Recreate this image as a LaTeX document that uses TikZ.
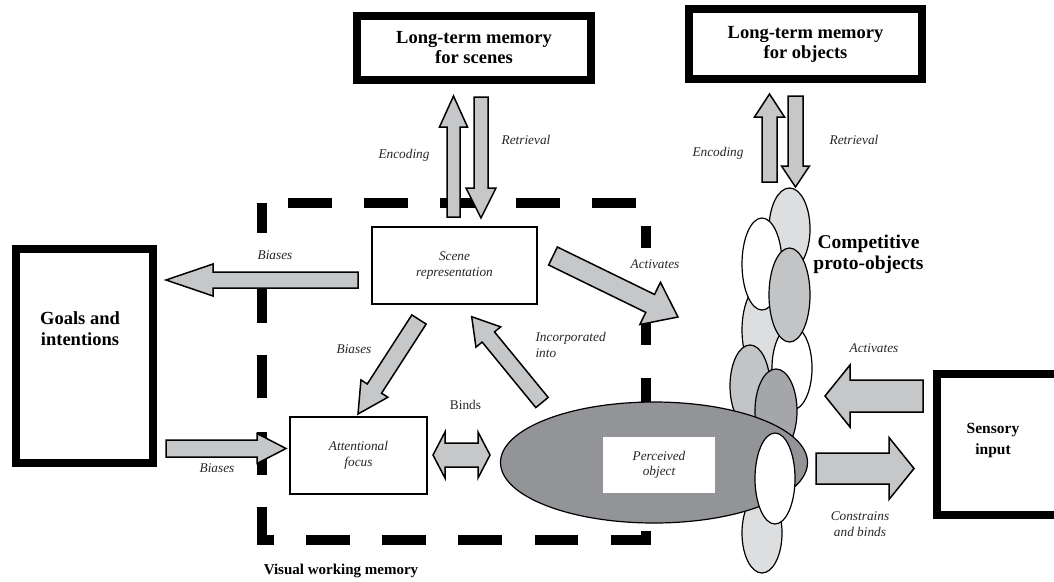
\documentclass[tikz,border=0pt]{standalone}
\usepackage{fontspec}
\setmainfont{Liberation Serif}
\usetikzlibrary{calc,shapes.geometric}

\definecolor{arrowgray}{HTML}{C6C7C9}
\definecolor{protolight}{HTML}{DDDEDF}
\definecolor{protomid}{HTML}{C3C4C6}
\definecolor{protodark}{HTML}{A5A6A9}
\definecolor{percgray}{HTML}{939497}

% fat arrow: #1 tail, #2 tip, #3 half shaft, #4 half head, #5 head length
\newcommand{\fatarrow}[5]{%
  \path[fatstyle] let \p1=(#1), \p2=(#2),
      \n1={atan2(\y2-\y1,\x2-\x1)}, \n2={veclen(\x2-\x1,\y2-\y1)-#5pt} in
    ($(\p1)+({\n1-90}:#3pt)$) -- ($(\p1)+(\n1:\n2)+({\n1-90}:#3pt)$)
    -- ($(\p1)+(\n1:\n2)+({\n1-90}:#4pt)$) -- (\p2)
    -- ($(\p1)+(\n1:\n2)+({\n1+90}:#4pt)$) -- ($(\p1)+(\n1:\n2)+({\n1+90}:#3pt)$)
    -- ($(\p1)+({\n1+90}:#3pt)$) -- cycle;}
% same, with a head at both ends
\newcommand{\fatdouble}[5]{%
  \path[fatstyle] let \p1=(#1), \p2=(#2),
      \n1={atan2(\y2-\y1,\x2-\x1)}, \n2={veclen(\x2-\x1,\y2-\y1)-#5pt} in
    (\p1) -- ($(\p1)+(\n1:#5pt)+({\n1-90}:#4pt)$) -- ($(\p1)+(\n1:#5pt)+({\n1-90}:#3pt)$)
    -- ($(\p1)+(\n1:\n2)+({\n1-90}:#3pt)$) -- ($(\p1)+(\n1:\n2)+({\n1-90}:#4pt)$)
    -- (\p2) -- ($(\p1)+(\n1:\n2)+({\n1+90}:#4pt)$) -- ($(\p1)+(\n1:\n2)+({\n1+90}:#3pt)$)
    -- ($(\p1)+(\n1:#5pt)+({\n1+90}:#3pt)$) -- ($(\p1)+(\n1:#5pt)+({\n1+90}:#4pt)$) -- cycle;}

\begin{document}
\begin{tikzpicture}[x=1pt,y=-1pt] % pixel grid, y down
\tikzstyle{bigbox} = [draw, line width=8pt, fill=white, inner sep=0pt] % thick frame
\tikzstyle{smallbox} = [draw, line width=1.2pt, fill=white, inner sep=0pt] % thin frame
\tikzstyle{bigtext} = [font=\fontsize{18.5}{20}\selectfont\bfseries, align=center]
\tikzstyle{lbl} = [font=\fontsize{13.3}{15.5}\selectfont\itshape, text=black!85, align=center] % arrow labels
\tikzstyle{fatstyle} = [draw, fill=arrowgray, line width=1.5pt, line join=miter]
\tikzstyle{wmdash} = [line width=10pt, line join=miter] % visual working memory frame
\tikzstyle{protostyle} = [draw, line width=1.2pt]
\useasboundingbox (0,0) rectangle (1054,581);

% dashed frame of visual working memory
\foreach \a in {288,364,440,516,592} \draw[wmdash] (\a,203) -- (\a+44,203);
\foreach \a/\b in {203/233,279/323,355/398,432/475} \draw[wmdash] (262,\a) -- (262,\b);
\foreach \a/\b in {306/350,382/426,458/502,535/578} \draw[wmdash] (\a,539.5) -- (\b,539.5);
\foreach \a/\b in {226/248,323/345,378/410} \draw[wmdash] (645.5,\a) -- (645.5,\b);
\draw[wmdash] (262,507) -- (262,539.5) -- (274,539.5);
\draw[wmdash] (611,539.5) -- (645.5,539.5) -- (645.5,531);

% boxes
\node[bigbox, bigtext, minimum width=234pt, minimum height=64pt] (ltmscenes) at (474,48) {Long-term memory\\for scenes};
\node[bigbox, bigtext, minimum width=233pt, minimum height=70pt] (ltmobjects) at (805.5,44) {Long-term memory\\for objects};
\node[bigbox, minimum width=137pt, minimum height=214pt] (goals) at (84.5,356) {};
\node[bigtext, font=\fontsize{18.5}{21}\selectfont\bfseries] (goalslbl) at (80,329) {Goals and\\intentions};
\node[bigbox, minimum width=121pt, minimum height=141pt] (sensory) at (997.5,444.5) {};
\node[font=\fontsize{15.5}{21}\selectfont\bfseries, align=center] (sensorylbl) at (993,441) {Sensory\\input};
\node[smallbox, lbl, minimum width=165pt, minimum height=77pt] (scene) at (454.5,265.5) {Scene\\representation};
\node[smallbox, lbl, minimum width=137pt, minimum height=77pt] (focus) at (358.5,455.5) {Attentional\\focus};

% competitive proto-objects
\foreach \cx/\cy/\rx/\ry/\col in {789.5/229/20.5/41/protolight, 762/330/20/45/protolight,
    762/264/20/46/white, 792/368/20/42/white, 789.5/295/20.5/47/protomid,
    750/386/20/41/protomid, 776/411/21/42/protodark, 762/533/20/40/protolight}
  \draw[protostyle, fill=\col] (\cx,\cy) ellipse [x radius=\rx, y radius=\ry];
\node[ellipse, draw, fill=percgray, line width=1.2pt, inner sep=0pt, minimum width=307pt, minimum height=121pt] (perceived) at (654,462.5) {};
\node[fill=white, lbl, inner sep=0pt, minimum width=112pt, minimum height=56pt] (perclbl) at (659,465) {Perceived\\object};
\draw[protostyle, fill=white] (775,478.5) ellipse [x radius=20, y radius=45.5];
\node[font=\fontsize{19.5}{21}\selectfont\bfseries, align=center] (protolbl) at (868.5,254) {Competitive\\proto-objects};

% arrow ends
\coordinate (encS1) at (453.5,217); \coordinate (encS2) at (453.5,96);
\coordinate (retS1) at (481,97);    \coordinate (retS2) at (481,218);
\coordinate (encO1) at (769.5,182); \coordinate (encO2) at (769.5,94);
\coordinate (retO1) at (795.5,96);  \coordinate (retO2) at (795.5,187);
\coordinate (biasG1) at (358,280);  \coordinate (biasG2) at (166,280);
\coordinate (biasF1) at (166,448.5); \coordinate (biasF2) at (286,448.5);
\coordinate (biasS1) at (419,319.5); \coordinate (biasS2) at (358,414);
\coordinate (incorp1) at (542,402.5); \coordinate (incorp2) at (471.7,316.7);
\coordinate (actS1) at (553,256);   \coordinate (actS2) at (678,317);
\coordinate (binds1) at (433,455);  \coordinate (binds2) at (490,455);
\coordinate (actI1) at (923,396);   \coordinate (actI2) at (825,396);
\coordinate (constr1) at (816,468.5); \coordinate (constr2) at (914,468.5);

% arrows
\fatarrow{encS1}{encS2}{6.5}{14}{31}
\fatarrow{retS1}{retS2}{7}{15}{30}
\fatarrow{encO1}{encO2}{7.5}{15}{23}
\fatarrow{retO1}{retO2}{7.5}{14}{21}
\fatarrow{biasG1}{biasG2}{8}{16}{47}
\fatarrow{biasF1}{biasF2}{8.5}{15}{29}
\fatarrow{biasS1}{biasS2}{8.5}{16}{30}
\fatarrow{incorp1}{incorp2}{8}{16}{26}
\fatarrow{actS1}{actS2}{10}{23.5}{31}
\fatdouble{binds1}{binds2}{12}{23}{12}
\fatarrow{actI1}{actI2}{16}{31}{25}
\fatarrow{constr1}{constr2}{15.5}{31}{25}

% labels
\node[lbl] (encSlbl) at (404,155) {Encoding};
\node[lbl] (retSlbl) at (526,140) {Retrieval};
\node[lbl] (encOlbl) at (718,153) {Encoding};
\node[lbl] (retOlbl) at (854,140) {Retrieval};
\node[lbl] (biasGlbl) at (275,255) {Biases};
\node[lbl] (biasFlbl) at (217,468) {Biases};
\node[lbl] (biasSlbl) at (354,349) {Biases};
\node[lbl, align=left, anchor=west] (incorplbl) at (532,345) {Incorporated\\into};
\node[lbl] (actSlbl) at (655,264) {Activates};
\node[font=\fontsize{13.3}{15}\selectfont, text=black!85] (bindslbl) at (465.5,405) {Binds};
\node[lbl] (actIlbl) at (874,348) {Activates};
\node[lbl] (constrlbl) at (860,524) {Constrains\\and binds};
\node[font=\fontsize{15}{17}\selectfont\bfseries] (wmlbl) at (341,571) {Visual working memory};
\end{tikzpicture}
\end{document}
